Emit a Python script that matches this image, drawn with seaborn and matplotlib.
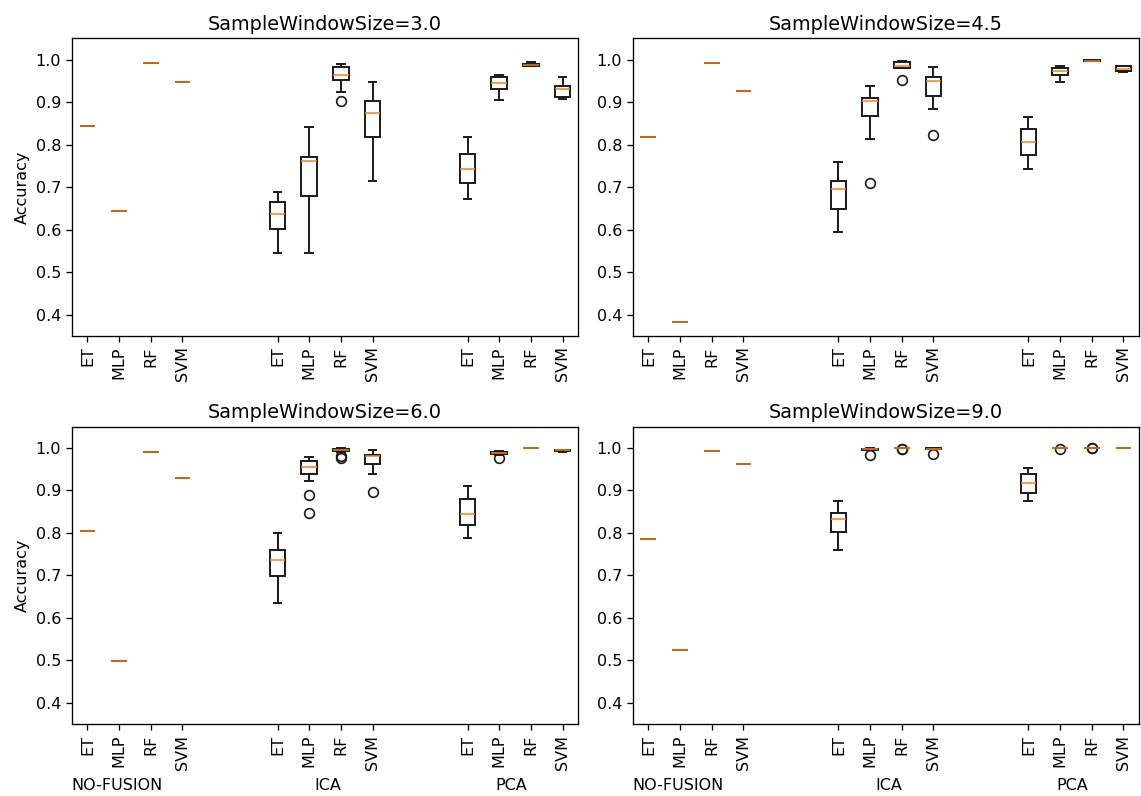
import numpy as np
import pandas as pd
import matplotlib
matplotlib.use("Agg")
import matplotlib.pyplot as plt
import matplotlib.transforms as mtransforms
import seaborn as sns

classifiers = ["ET", "MLP", "RF", "SVM"]
fusion_methods = ["NO-FUSION", "ICA", "PCA"]
window_sizes = [3.0, 4.5, 6.0, 9.0]

# Accuracy without feature fusion: one run per classifier
nofusion_w30 = [0.843, 0.644, 0.9915, 0.948]
nofusion_w45 = [0.819, 0.3837, 0.9915, 0.926]
nofusion_w60 = [0.805, 0.498, 0.989, 0.9295]
nofusion_w90 = [0.786, 0.5253, 0.9914, 0.9616]

# ICA fusion: accuracies over repeated runs
ica_w30_et = [0.545, 0.590, 0.6025, 0.620, 0.636, 0.650, 0.666, 0.675, 0.688]
ica_w30_mlp = [0.545, 0.640, 0.680, 0.735, 0.7626, 0.767, 0.771, 0.800, 0.8407]
ica_w30_rf = [0.903, 0.9236, 0.952, 0.958, 0.964, 0.975, 0.982, 0.986, 0.989]
ica_w30_svm = [0.715, 0.780, 0.819, 0.850, 0.874, 0.890, 0.9016, 0.925, 0.948]

ica_w45_et = [0.5955, 0.630, 0.6494, 0.680, 0.6954, 0.705, 0.715, 0.740, 0.7595]
ica_w45_mlp = [0.7103, 0.814, 0.868, 0.890, 0.9016, 0.905, 0.9095, 0.925, 0.939]
ica_w45_rf = [0.953, 0.979, 0.980, 0.983, 0.986, 0.990, 0.9939, 0.996, 0.997]
ica_w45_svm = [0.822, 0.8845, 0.914, 0.935, 0.9485, 0.952, 0.958, 0.970, 0.983]

ica_w60_et = [0.635, 0.670, 0.6984, 0.720, 0.7368, 0.748, 0.7588, 0.780, 0.800]
ica_w60_mlp = [0.8465, 0.888, 0.923, 0.939, 0.945, 0.950, 0.9546, 0.960, 0.965,
               0.970, 0.973, 0.976, 0.978]
ica_w60_rf = [0.975, 0.981, 0.9906, 0.992, 0.993, 0.994, 0.9953, 0.996, 0.997,
              0.9977, 0.998, 0.999, 1.0]
ica_w60_svm = [0.896, 0.939, 0.961, 0.972, 0.9796, 0.981, 0.9828, 0.990, 0.9953]

ica_w90_et = [0.7588, 0.785, 0.8026, 0.820, 0.8324, 0.840, 0.8465, 0.860, 0.8747]
ica_w90_mlp = [0.984, 0.995, 0.996, 0.9965, 0.9969, 0.997, 0.998, 0.998, 0.9984]
ica_w90_rf = [0.997, 0.998, 1.0, 1.0, 1.0, 1.0, 1.0, 1.0, 1.0]
ica_w90_svm = [0.986, 0.997, 0.998, 0.998, 0.998, 0.998, 0.999, 0.999, 0.999]

# PCA fusion: accuracies over repeated runs
pca_w30_et = [0.673, 0.690, 0.709, 0.725, 0.743, 0.760, 0.778, 0.800, 0.819]
pca_w30_mlp = [0.906, 0.920, 0.9306, 0.938, 0.945, 0.952, 0.9587, 0.962, 0.964]
pca_w30_rf = [0.9845, 0.985, 0.985, 0.987, 0.988, 0.989, 0.9906, 0.993, 0.9946]
pca_w30_svm = [0.907, 0.910, 0.912, 0.925, 0.9313, 0.935, 0.939, 0.950, 0.9587]

pca_w45_et = [0.742, 0.760, 0.775, 0.790, 0.805, 0.820, 0.836, 0.850, 0.865]
pca_w45_mlp = [0.947, 0.955, 0.964, 0.968, 0.9728, 0.976, 0.980, 0.983, 0.986]
pca_w45_rf = [0.996, 0.996, 0.997, 0.997, 0.997, 0.997, 0.998, 0.998, 0.998]
pca_w45_svm = [0.971, 0.971, 0.972, 0.975, 0.978, 0.980, 0.9845, 0.985, 0.986]

pca_w60_et = [0.7885, 0.805, 0.819, 0.830, 0.8433, 0.860, 0.879, 0.895, 0.9107]
pca_w60_mlp = [0.975, 0.982, 0.985, 0.987, 0.988, 0.989, 0.9906, 0.991, 0.992]
pca_w60_rf = [1.0, 1.0, 1.0, 1.0, 1.0, 1.0, 1.0, 1.0, 1.0]
pca_w60_svm = [0.991, 0.992, 0.992, 0.993, 0.9937, 0.994, 0.995, 0.995, 0.996]

pca_w90_et = [0.876, 0.885, 0.8927, 0.905, 0.9178, 0.928, 0.939, 0.945, 0.9514]
pca_w90_mlp = [0.997, 0.9985, 0.9985, 0.9985, 0.9985, 0.9985, 0.9985, 0.9985, 0.9985]
pca_w90_rf = [0.9985, 0.999, 1.0, 1.0, 1.0, 1.0, 1.0, 1.0, 1.0]
pca_w90_svm = [1.0, 1.0, 1.0, 1.0, 1.0, 1.0, 1.0, 1.0, 1.0]

panels = {
    3.0: (nofusion_w30, [ica_w30_et, ica_w30_mlp, ica_w30_rf, ica_w30_svm],
          [pca_w30_et, pca_w30_mlp, pca_w30_rf, pca_w30_svm]),
    4.5: (nofusion_w45, [ica_w45_et, ica_w45_mlp, ica_w45_rf, ica_w45_svm],
          [pca_w45_et, pca_w45_mlp, pca_w45_rf, pca_w45_svm]),
    6.0: (nofusion_w60, [ica_w60_et, ica_w60_mlp, ica_w60_rf, ica_w60_svm],
          [pca_w60_et, pca_w60_mlp, pca_w60_rf, pca_w60_svm]),
    9.0: (nofusion_w90, [ica_w90_et, ica_w90_mlp, ica_w90_rf, ica_w90_svm],
          [pca_w90_et, pca_w90_mlp, pca_w90_rf, pca_w90_svm]),
}

# box positions: four classifiers per fusion group, groups separated by a gap
group_starts = [1, 7, 13]
positions = [s + i for s in group_starts for i in range(len(classifiers))]
tick_labels = classifiers * len(fusion_methods)
group_label_x = [1.93, 8.58, 14.37]

LW = 1.4
MEDIAN_LW = 1.1
FS = 11.5


def panel_frame(ws):
    nofusion, ica, pca = panels[ws]
    rows = []
    for i, v in enumerate(nofusion):
        rows.append((group_starts[0] + i, v))
    for start, runs in ((group_starts[1], ica), (group_starts[2], pca)):
        for i, vals in enumerate(runs):
            for v in vals:
                rows.append((start + i, v))
    return pd.DataFrame(rows, columns=["position", "accuracy"])


plt.rcParams["axes.linewidth"] = 0.95
plt.rcParams["xtick.major.width"] = 0.95
plt.rcParams["ytick.major.width"] = 0.95
plt.rcParams["xtick.major.size"] = 4.0
plt.rcParams["ytick.major.size"] = 4.0

fig, axes = plt.subplots(2, 2, figsize=(11.41, 7.96), dpi=100)
fig.subplots_adjust(left=0.0628, right=0.9985, top=0.9519, bottom=0.0901,
                    wspace=0.107, hspace=0.304)

for ax, ws in zip(axes.flat, window_sizes):
    df = panel_frame(ws)
    sns.boxplot(
        data=df, x="position", y="accuracy", native_scale=True, ax=ax,
        width=0.5, whis=1.5, color="white", linecolor="#1a1a1a", linewidth=LW,
        medianprops=dict(color="#ff7f0e", linewidth=MEDIAN_LW),
        flierprops=dict(marker="o", markerfacecolor="none",
                        markeredgecolor="#1a1a1a", markersize=7,
                        markeredgewidth=1.2),
        fliersize=7,
    )
    ax.set_xlim(0.5, 16.5)
    ax.set_ylim(0.35, 1.05)
    ax.set_xticks(positions)
    ax.set_xticklabels(tick_labels, rotation=90, fontsize=FS)
    ax.tick_params(axis="y", labelsize=FS)
    ax.set_xlabel("")
    ax.set_ylabel("")
    ax.set_title(f"SampleWindowSize={ws}", fontsize=13.9)

for ax in axes[:, 0]:
    ax.set_ylabel("Accuracy", fontsize=FS)

for ax in axes[1, :]:
    trans = mtransforms.blended_transform_factory(ax.transData, ax.transAxes)
    for x, name in zip(group_label_x, fusion_methods):
        ax.text(x, -0.206, name, transform=trans, ha="center", va="center",
                fontsize=FS)

fig.savefig("out.png", dpi=100)
